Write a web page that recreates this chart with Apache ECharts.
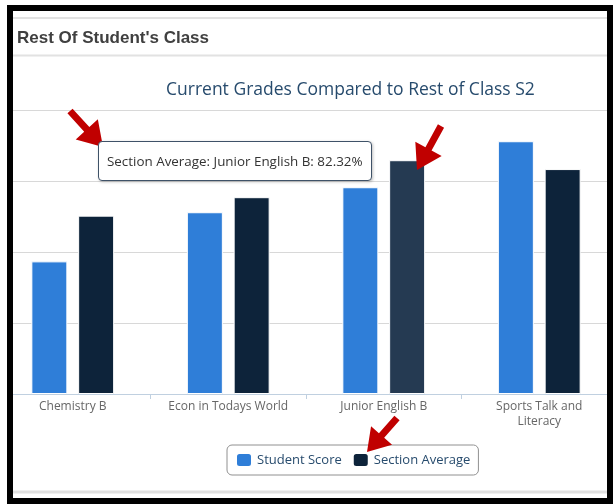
<!DOCTYPE html>
<html>
<head>
<meta charset="utf-8">
<script src="https://cdn.jsdelivr.net/npm/echarts@6/dist/echarts.min.js"></script>
<style>
  html, body { margin: 0; padding: 0; background: #fff; overflow: hidden; }
  /* the plot runs past the left edge of the screenshot, so the canvas is shifted left */
  #chart { position: absolute; left: -5px; top: 0; width: 622px; height: 504px; }
  #frame {
    position: absolute; left: 7px; top: 5px; width: 594px; height: 487px;
    border: 6px solid #000; z-index: 99999; pointer-events: none;
  }
</style>
</head>
<body>
<div id="chart"></div>
<div id="frame"></div>
<script>
// data (percent)
var courses = ["Chemistry B", "Econ in Todays World", "Junior English B", "Sports Talk and Literacy"];
var studentScore = [46.7, 64.0, 72.8, 89.0];
var sectionAverage = [62.8, 69.3, 82.32, 79.2];
var yTicks = [0, 25, 50, 75, 100];
var hoverIndex = 2; // bar under the tooltip

var OX = 5; // canvas shift
var chart = echarts.init(document.getElementById("chart"));
var font = "'Lucida Grande', 'Open Sans', sans-serif";

// red arrow shape: shaft + head, given tail and tip
function arrow(x1, y1, x2, y2, shaft, headLen, headW) {
  x1 += OX; x2 += OX;
  var dx = x2 - x1, dy = y2 - y1;
  var len = Math.sqrt(dx * dx + dy * dy);
  var ux = dx / len, uy = dy / len, nx = -uy, ny = ux;
  var bx = x2 - ux * headLen, by = y2 - uy * headLen;
  return {
    type: "polygon",
    z: 120,
    shape: {
      points: [
        [x1 + nx * shaft / 2, y1 + ny * shaft / 2],
        [bx + nx * shaft / 2, by + ny * shaft / 2],
        [bx + nx * headW / 2, by + ny * headW / 2],
        [x2, y2],
        [bx - nx * headW / 2, by - ny * headW / 2],
        [bx - nx * shaft / 2, by - ny * shaft / 2],
        [x1 - nx * shaft / 2, y1 - ny * shaft / 2]
      ]
    },
    style: { fill: "#c00000" }
  };
}

function block(x, y, w, h, fill, z) {
  return { type: "rect", z: z, shape: { x: x + OX, y: y, width: w, height: h }, style: { fill: fill } };
}

function hline(x1, x2, y, color, width) {
  return { type: "line", z: 100, shape: { x1: x1 + OX, y1: y, x2: x2 + OX, y2: y }, style: { stroke: color, lineWidth: width } };
}

chart.setOption({
  animation: false,
  title: [
    {
      text: "Rest Of Student's Class",
      left: 12 + OX,
      top: 25,
      textStyle: { color: "#404040", fontSize: 17, fontWeight: "bold", fontFamily: "'Liberation Sans', Arial, sans-serif" }
    },
    {
      text: "Current Grades Compared to Rest of Class S2",
      left: 161 + OX,
      top: 76,
      textStyle: { color: "#274b6d", fontSize: 17.5, fontWeight: "normal", fontFamily: font }
    }
  ],
  grid: { left: 0, right: 0, top: 110, bottom: 110, containLabel: false },
  legend: {
    left: 227 + OX,
    top: 445,
    padding: [7, 8, 7, 8],
    borderColor: "#909090",
    borderWidth: 1,
    borderRadius: 5,
    itemWidth: 16,
    itemHeight: 14,
    itemGap: 10,
    icon: "roundRect",
    textStyle: { color: "#274b6d", fontSize: 13, fontFamily: font },
    data: ["Student Score", "Section Average"]
  },
  tooltip: {
    trigger: "item",
    alwaysShowContent: true,
    transitionDuration: 0,
    position: [98 + OX, 141],
    backgroundColor: "#ffffff",
    borderColor: "#3f5268",
    borderWidth: 1,
    padding: [9, 8],
    textStyle: { color: "#333", fontSize: 13.4, fontFamily: font },
    extraCssText: "border-radius:4px;box-shadow:1px 1px 3px rgba(0,0,0,0.25);",
    formatter: function (p) {
      return p.seriesName + ": " + p.name + ": " + p.value + "%";
    }
  },
  xAxis: {
    type: "category",
    data: courses,
    axisLine: { lineStyle: { color: "#c0d0e0", width: 1 } },
    axisTick: { show: true, interval: 0, length: 5, lineStyle: { color: "#c0d0e0" } },
    axisLabel: {
      interval: 0,
      color: "#666",
      fontSize: 12,
      fontFamily: font,
      margin: 5,
      lineHeight: 15,
      formatter: function (v) { return v.replace(" and ", " and\n"); }
    }
  },
  yAxis: {
    type: "value",
    min: yTicks[0],
    max: yTicks[yTicks.length - 1],
    interval: yTicks[1] - yTicks[0],
    axisLabel: { show: false },
    axisLine: { show: false },
    axisTick: { show: false },
    splitLine: { lineStyle: { color: "#d8d8d8", width: 1 } }
  },
  series: [
    {
      name: "Student Score",
      type: "bar",
      barWidth: 36,
      barGap: "30%",
      itemStyle: { color: "#2f7ed8", borderColor: "#ffffff", borderWidth: 1 },
      data: studentScore
    },
    {
      name: "Section Average",
      type: "bar",
      barWidth: 36,
      itemStyle: { color: "#0d233a", borderColor: "#ffffff", borderWidth: 1 },
      data: sectionAverage.map(function (v, i) {
        return i === hoverIndex ? { value: v, itemStyle: { color: "#253a52" } } : v;
      })
    }
  ],
  graphic: {
    elements: [
      // white outside the frame
      block(0, 0, 7, 504, "#fff", 100),
      // light separator lines
      hline(13, 607, 18, "#e2e2e2", 2),
      hline(13, 607, 55.5, "#e2e2e2", 2),
      hline(13, 607, 492, "#e0e0e0", 3),
      // red annotation arrows
      arrow(70, 111, 103, 147, 7, 24, 30),
      arrow(441, 126, 417, 170, 7, 24, 30),
      arrow(397, 418, 367, 452, 7, 22, 28)
    ]
  }
});

chart.dispatchAction({ type: "showTip", seriesIndex: 1, dataIndex: hoverIndex });
</script>
</body>
</html>
